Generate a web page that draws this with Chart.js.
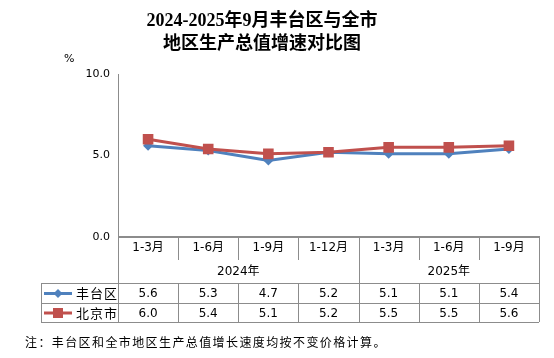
<!DOCTYPE html>
<html><head><meta charset="utf-8">
<script src="https://cdn.jsdelivr.net/npm/chart.js@4.4.1/dist/chart.umd.min.js"></script>
<style>
html,body{margin:0;padding:0;background:#fff;}
#wrap{position:relative;width:554px;height:358px;overflow:hidden;}
canvas{position:absolute;left:0;top:0;}
.t{position:absolute;left:0;width:524px;text-align:center;font-family:"Liberation Serif","Noto Sans CJK SC",serif;font-weight:bold;font-size:18px;color:#000;white-space:nowrap;line-height:20px;}
#pct{position:absolute;left:64px;top:52px;font-family:"DejaVu Sans",sans-serif;font-size:11px;color:#000;}
#note{position:absolute;left:25px;top:334px;font-family:"Noto Sans CJK SC",sans-serif;font-size:12px;letter-spacing:1.4px;color:#000;white-space:nowrap;line-height:16px;}
</style></head>
<body><div id="wrap">
<canvas id="c" width="554" height="358"></canvas>
<div class="t" style="top:10px">2024-2025年9月丰台区与全市</div>
<div class="t" style="top:33px">地区生产总值增速对比图</div>
<div id="pct">%</div>
<div id="note">注：丰台区和全市地区生产总值增长速度均按不变价格计算。</div>
</div>
<script>
const categories = ["1-3月","1-6月","1-9月","1-12月","1-3月","1-6月","1-9月"];
const years = [{label:"2024年", from:0, to:3}, {label:"2025年", from:4, to:6}];
const fengtai = [5.6, 5.3, 4.7, 5.2, 5.1, 5.1, 5.4];
const beijing = [6.0, 5.4, 5.1, 5.2, 5.5, 5.5, 5.6];
const seriesNames = ["丰台区","北京市"];
const yTicks = [0, 5, 10];

const BLUE = "#4F81BD", RED = "#C0504D", GRID = "#8C8C8C";
const numFont = '12px "DejaVu Sans", sans-serif';
const cjkFont = '12px "DejaVu Sans", "Noto Sans CJK SC", sans-serif';

const tablePlugin = {
  id: "dataTable",
  afterDraw(chart) {
    const ctx = chart.ctx, x = chart.scales.x, ca = chart.chartArea;
    const n = categories.length;
    const half = (x.getPixelForValue(1) - x.getPixelForValue(0)) / 2;
    const edges = [];
    for (let i = 0; i < n; i++) edges.push(x.getPixelForValue(i) - half);
    edges.push(x.getPixelForValue(n - 1) + half);
    const L = ca.left, R = ca.right, y0 = ca.bottom;
    const yCat = y0 + 23, yYear = y0 + 46, yS1 = y0 + 66, yS2 = y0 + 85;
    const legL = 41;
    ctx.save();
    ctx.strokeStyle = GRID; ctx.lineWidth = 1;
    const line = (a, b, c, d) => { ctx.beginPath(); ctx.moveTo(a, b); ctx.lineTo(c, d); ctx.stroke(); };
    line(legL, yYear + 0.5, R, yYear + 0.5);
    line(legL, yS1 + 0.5, R, yS1 + 0.5);
    line(legL, yS2 + 0.5, R, yS2 + 0.5);
    for (let i = 1; i < n; i++) line(Math.round(edges[i]) + 0.5, y0, Math.round(edges[i]) + 0.5, yCat);
    years.forEach(yr => {
      line(Math.round(edges[yr.from]) + 0.5, y0, Math.round(edges[yr.from]) + 0.5, yYear);
    });
    line(Math.round(R) + 0.5, y0, Math.round(R) + 0.5, yS2);
    for (let i = 0; i <= n; i++) line(Math.round(edges[i]) + 0.5, yYear, Math.round(edges[i]) + 0.5, yS2);
    line(legL + 0.5, yYear, legL + 0.5, yS2);
    ctx.lineWidth = 2;
    line(L, y0, R + 1, y0);
    ctx.fillStyle = "#000"; ctx.textAlign = "center"; ctx.textBaseline = "middle";
    ctx.font = cjkFont;
    categories.forEach((c, i) => ctx.fillText(c, x.getPixelForValue(i), y0 + 11));
    years.forEach(yr => ctx.fillText(yr.label, (edges[yr.from] + edges[yr.to + 1]) / 2, y0 + 35));
    ctx.font = numFont;
    [fengtai, beijing].forEach((arr, k) => {
      const yy = k === 0 ? (yYear + yS1) / 2 + 1 : (yS1 + yS2) / 2 + 1;
      arr.forEach((v, i) => ctx.fillText(v.toFixed(1), x.getPixelForValue(i), yy));
    });
    [[BLUE, "diamond"], [RED, "square"]].forEach(([col, m], k) => {
      const yy = k === 0 ? (yYear + yS1) / 2 + 0.5 : (yS1 + yS2) / 2 + 0.5;
      ctx.strokeStyle = col; ctx.fillStyle = col; ctx.lineWidth = 3;
      line(44, yy, 72, yy);
      ctx.beginPath();
      if (m === "diamond") { ctx.moveTo(58, yy - 4.5); ctx.lineTo(62.5, yy); ctx.lineTo(58, yy + 4.5); ctx.lineTo(53.5, yy); ctx.closePath(); }
      else { ctx.rect(53, yy - 5, 10, 10); }
      ctx.fill();
      ctx.fillStyle = "#000"; ctx.textAlign = "left";
      ctx.font = '13px "Noto Sans CJK SC", sans-serif';
      ctx.letterSpacing = "1px";
      ctx.fillText(seriesNames[k], 76, yy);
      ctx.letterSpacing = "0px";
      ctx.textAlign = "center";
    });
    ctx.restore();
  }
};

new Chart(document.getElementById("c"), {
  type: "line",
  data: {
    labels: categories,
    datasets: [
      { label: seriesNames[0], data: fengtai, borderColor: BLUE, backgroundColor: BLUE, borderWidth: 3,
        pointStyle: "rectRot", pointRadius: 5, pointBorderWidth: 0, tension: 0, order: 1 },
      { label: seriesNames[1], data: beijing, borderColor: RED, backgroundColor: RED, borderWidth: 3,
        pointStyle: "rect", pointRadius: 7.5, pointBorderWidth: 0, tension: 0, order: 0 }
    ]
  },
  options: {
    responsive: false, animation: false, devicePixelRatio: 1,
    layout: { padding: { left: 0, right: 15, top: 74, bottom: 121 } },
    plugins: { legend: { display: false }, tooltip: { enabled: false }, title: { display: false } },
    scales: {
      x: { display: false, offset: true },
      y: {
        min: 0, max: 10,
        afterBuildTicks: s => { s.ticks = yTicks.map(v => ({ value: v })); },
        afterFit: s => { s.width = 118; },
        grid: { display: false, drawTicks: false },
        border: { display: true, color: GRID, width: 1 },
        ticks: { padding: 8, color: "#000", font: { family: "DejaVu Sans", size: 11 },
          callback: v => Number(v).toFixed(1) }
      }
    }
  },
  plugins: [tablePlugin]
});
</script>
</body></html>
